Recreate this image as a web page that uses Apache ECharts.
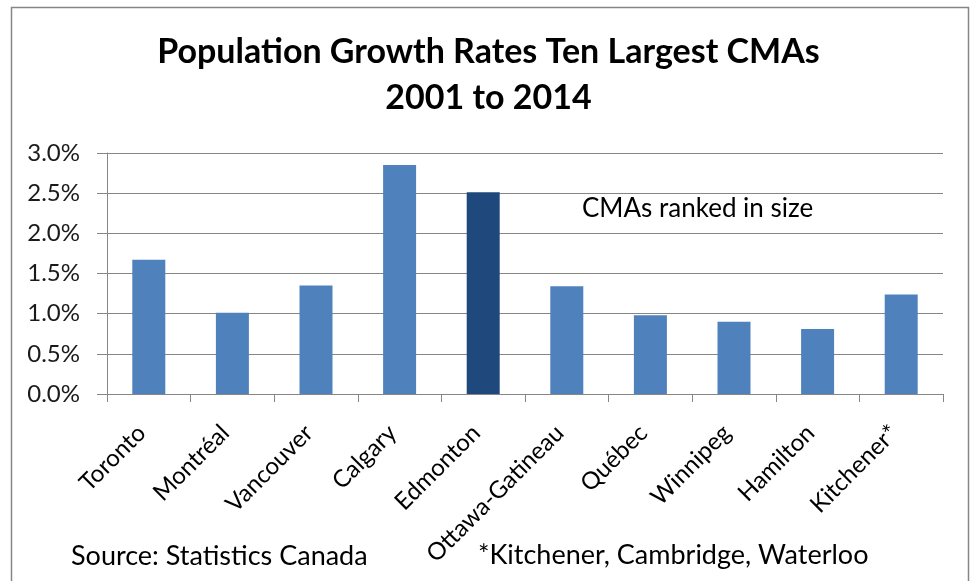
<!DOCTYPE html>
<html><head><meta charset="utf-8">
<script src="https://cdn.jsdelivr.net/npm/echarts@6/dist/echarts.min.js"></script>
<style>html,body{margin:0;padding:0;background:#fff}#c{width:977px;height:581px}</style>
</head><body><div id="c"></div>
<script>
const categories = ['Toronto','Montréal','Vancouver','Calgary','Edmonton','Ottawa-Gatineau','Québec','Winnipeg','Hamilton','Kitchener*'];
const growthRates = [1.67, 1.01, 1.35, 2.85, 2.51, 1.34, 0.98, 0.90, 0.81, 1.24];
const highlightIndex = 4;
const yTicks = [0, 0.5, 1.0, 1.5, 2.0, 2.5, 3.0];
const titleText = 'Population Growth Rates Ten Largest CMAs\n2001 to 2014';
const noteText = 'CMAs ranked in size';
const sourceText = 'Source: Statistics Canada';
const footnoteText = '*Kitchener, Cambridge, Waterloo';

const chart = echarts.init(document.getElementById('c'));
const FONT = 'Lato, "Open Sans", sans-serif';
chart.setOption({
  animation: false,
  backgroundColor: '#fff',
  title: {
    text: titleText, left: 'center', top: 24,
    textStyle: {fontFamily: FONT, fontWeight: 'bold', fontSize: 34, lineHeight: 46, color: '#000'}
  },
  grid: {left: 107, right: 34, top: 153, bottom: 187},
  xAxis: {
    type: 'category', data: categories,
    axisLine: {lineStyle: {color: '#868686', width: 1}},
    axisTick: {show: true, length: 8, lineStyle: {color: '#868686'}},
    axisLabel: {rotate: 45, fontFamily: FONT, fontSize: 24, color: '#000', margin: 28, interval: 0, padding: [0, 10, 0, 0]}
  },
  yAxis: {
    type: 'value', min: yTicks[0], max: yTicks[yTicks.length-1], interval: 0.5,
    axisLine: {show: true, lineStyle: {color: '#868686'}},
    axisTick: {show: true, length: 10, lineStyle: {color: '#868686'}},
    splitLine: {lineStyle: {color: '#868686', width: 1}},
    axisLabel: {fontFamily: FONT, fontSize: 24, color: '#1a1a1a', margin: 27,
      formatter: v => v.toFixed(1) + '%'}
  },
  series: [{
    type: 'bar', barWidth: 33,
    data: growthRates.map((v, i) => ({value: v, itemStyle: {color: i === highlightIndex ? '#1F497D' : '#4F81BD'}}))
  }],
  graphic: [
    {type: 'rect', shape: {x: 11.5, y: 7.5, width: 957, height: 600}, style: {fill: 'none', stroke: '#868686', lineWidth: 1.5}, silent: true},
    {type: 'text', x: 582, y: 209, style: {text: noteText, font: '26px ' + FONT, fill: '#000', verticalAlign: 'middle'}},
    {type: 'text', x: 71, y: 556, style: {text: sourceText, font: '27px ' + FONT, fill: '#000', verticalAlign: 'middle'}},
    {type: 'text', x: 478, y: 555, style: {text: footnoteText, font: '27px ' + FONT, fill: '#000', verticalAlign: 'middle'}}
  ]
});
</script></body></html>
